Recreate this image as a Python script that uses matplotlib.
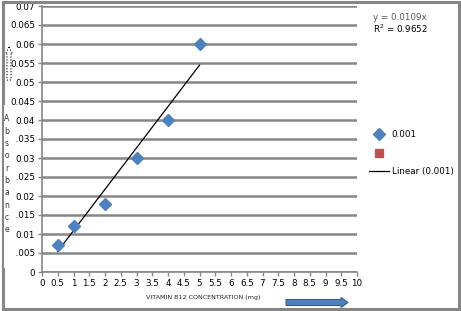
import numpy as np
import matplotlib
matplotlib.use("Agg")
import matplotlib.pyplot as plt
from matplotlib.patches import FancyArrow, Rectangle

# data
conc = [0.5, 1, 2, 3, 4, 5]
absorb = [0.007, 0.012, 0.018, 0.030, 0.040, 0.060]
x_ticks = np.arange(0, 10.01, 0.5)
y_ticks = np.arange(0, 0.0701, 0.005)

# linear trend through the origin (Excel style)
slope = np.dot(conc, absorb) / np.dot(conc, conc)
trend_x = [conc[0], conc[-1]]
trend_y = [slope * v for v in trend_x]

W, H = 461, 311
fig = plt.figure(figsize=(W / 100, H / 100), dpi=100)
fig.patch.set_facecolor("white")

grey = "#868686"
blue = "#4F81BD"
red = "#C0504D"

# outer chart frame
fig.add_artist(Rectangle((3 / W, 2 / H), 456 / W, 307 / H, transform=fig.transFigure,
                         fill=False, edgecolor=grey, linewidth=2.2))

ax = fig.add_axes([42 / W, (H - 272) / H, 315 / W, 266 / H])
ax.set_xlim(0, 10)
ax.set_ylim(0, 0.07)
ax.set_xticks(x_ticks)
ax.set_yticks(y_ticks)
ax.set_xticklabels(["%g" % v for v in x_ticks], fontsize=6.3)
ax.set_yticklabels(["%g" % round(v, 3) for v in y_ticks], fontsize=6.3)
ax.tick_params(length=3, width=1, color=grey, pad=2)
ax.grid(axis="y", color=grey, linewidth=1.8)
ax.set_axisbelow(True)
for side in ["top", "right"]:
    ax.spines[side].set_visible(False)
for side in ["left", "bottom"]:
    ax.spines[side].set_color(grey)
    ax.spines[side].set_linewidth(1.2)

ax.plot(conc, absorb, linestyle="none", marker="D", markersize=5.8,
        color=blue, label="0.001", zorder=3)
ax.plot([], [], linestyle="none", marker="s", markersize=6, color=red, label=" ")
ax.plot(trend_x, trend_y, color="black", linewidth=0.9, label="Linear (0.001)")

fig.legend(loc="upper left", bbox_to_anchor=(369 / W, 1 - 130 / H), frameon=False,
           fontsize=6.3, handlelength=2.3, handletextpad=0.3, labelspacing=1.1,
           borderpad=0, borderaxespad=0)

# trend line equation
fig.text(373 / W, 1 - 17 / H, "y = 0.0109x", fontsize=6.3, color="#555555", va="center")
fig.text(373 / W, 1 - 29 / H, "R$^2$ = 0.9652", fontsize=6.3, color="black", va="center")

# axis titles
fig.add_artist(Rectangle((4 / W, (H - 268) / H), 12 / W, 163 / H, transform=fig.transFigure,
                         facecolor="white", edgecolor="none"))
for i, ch in enumerate("Absorbance"):
    fig.text(7 / W, 1 - (119 + i * 12.3) / H, ch, fontsize=5.5, ha="center", va="center",
             color="#333333")
fig.add_artist(FancyArrow(9 / W, 1 - 80 / H, 0, 33 / H, width=4 / W, head_width=7 / W,
                          head_length=7 / H, transform=fig.transFigure, fill=False,
                          edgecolor="black", linestyle=":", linewidth=0.8,
                          length_includes_head=True, zorder=5))

fig.add_artist(Rectangle((142 / W, 4 / H), 136 / W, 16 / H, transform=fig.transFigure,
                         facecolor="white", edgecolor="none"))
fig.text(203 / W, 1 - 298 / H, "VITAMIN B12 CONCENTRATION (mg)", fontsize=4.6,
         ha="center", va="center", color="#222222")
fig.add_artist(FancyArrow(286 / W, 1 - 302.5 / H, 62 / W, 0, width=6 / H, head_width=10 / H,
                          head_length=7 / W, transform=fig.transFigure, facecolor=blue,
                          edgecolor="#385D8A", linewidth=0.8, length_includes_head=True))

fig.savefig("out.png", dpi=100)
